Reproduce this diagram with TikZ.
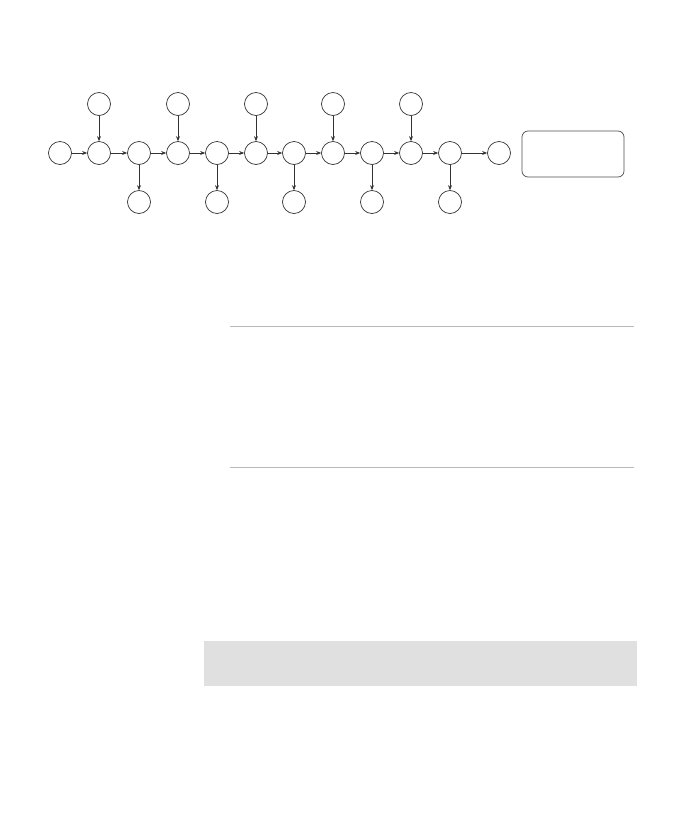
\documentclass[tikz,border=0pt]{standalone}
\usetikzlibrary{arrows.meta}
\begin{document}
\begin{tikzpicture}[x=1pt,y=-1pt,
  nd/.style={circle,draw=black!80,line width=0.7pt,minimum size=23pt,inner sep=0pt},
  ar/.style={draw=black!80,line width=0.7pt,-{Stealth[length=5pt,width=4pt]}},
  hline/.style={draw=black!28,line width=0.9pt}]
\useasboundingbox (0,0) rectangle (679,839);
% main chain
\node[nd] (m0) at (60,153) {};
\node[nd] (m1) at (99,153) {};
\node[nd] (m2) at (139,153) {};
\node[nd] (m3) at (178,153) {};
\node[nd] (m4) at (217,153) {};
\node[nd] (m5) at (256,153) {};
\node[nd] (m6) at (294,153) {};
\node[nd] (m7) at (333,153) {};
\node[nd] (m8) at (372,153) {};
\node[nd] (m9) at (411,153) {};
\node[nd] (m10) at (450,153) {};
\node[nd] (m11) at (499,153) {};
% top
\node[nd] (t1) at (99,104) {};
\node[nd] (t3) at (178,104) {};
\node[nd] (t5) at (256,104) {};
\node[nd] (t7) at (333,104) {};
\node[nd] (t9) at (411,104) {};
% bottom
\node[nd] (b2) at (139,202) {};
\node[nd] (b4) at (217,202) {};
\node[nd] (b6) at (294,202) {};
\node[nd] (b8) at (372,202) {};
\node[nd] (b10) at (450,202) {};
% box
\node[draw=black!70,line width=0.7pt,rounded corners=6pt,minimum width=102pt,minimum height=46pt,inner sep=0pt] (box) at (573,154) {};
% arrows
\foreach \a/\b in {m0/m1,m1/m2,m2/m3,m3/m4,m4/m5,m5/m6,m6/m7,m7/m8,m8/m9,m9/m10,m10/m11}
  \draw[ar] (\a) -- (\b);
\foreach \a/\b in {t1/m1,t3/m3,t5/m5,t7/m7,t9/m9}
  \draw[ar] (\a) -- (\b);
\foreach \a/\b in {m2/b2,m4/b4,m6/b6,m8/b8,m10/b10}
  \draw[ar] (\a) -- (\b);
% lines
\coordinate (l1a) at (230,326); \coordinate (l1b) at (634,326);
\coordinate (l2a) at (230,467); \coordinate (l2b) at (634,467);
\draw[hline] (l1a) -- (l1b);
\draw[hline] (l2a) -- (l2b);
% grey band
\fill[black!12] (204,641) rectangle (637,686);
\end{tikzpicture}
\end{document}
